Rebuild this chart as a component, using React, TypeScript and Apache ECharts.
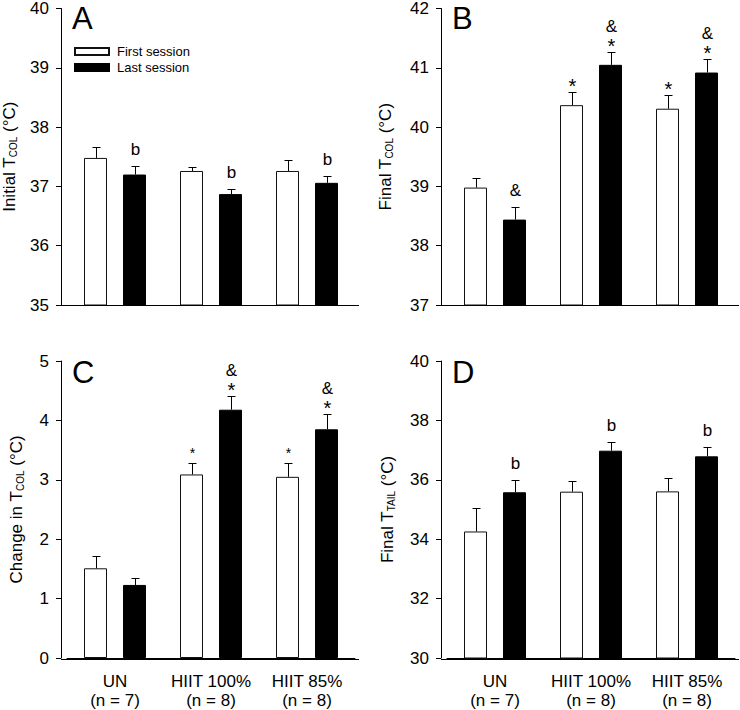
import React, { useEffect, useRef } from "react";
import * as echarts from "echarts";

const FONT = "'Liberation Sans', Arial, sans-serif";

const categories = ["UN\n(n = 7)", "HIIT 100%\n(n = 8)", "HIIT 85%\n(n = 8)"];
const seriesNames = ["First session", "Last session"];

// Panel A: initial colonic temperature
const initialFirst = [37.48, 37.26, 37.26];
const initialFirstErr = [0.18, 0.07, 0.18];
const initialLast = [37.2, 36.87, 37.06];
const initialLastErr = [0.15, 0.09, 0.12];
const initialFirstAnn = ["", "", ""];
const initialLastAnn = ["b", "b", "b"];

// Panel B: final colonic temperature
const finalFirst = [38.98, 40.37, 40.31];
const finalFirstErr = [0.16, 0.23, 0.23];
const finalLast = [38.44, 41.05, 40.92];
const finalLastErr = [0.21, 0.22, 0.22];
const finalFirstAnn = ["", "*", "*"];
const finalLastAnn = ["&", "&\n*", "&\n*"];

// Panel C: change in colonic temperature
const changeFirst = [1.51, 3.09, 3.05];
const changeFirstErr = [0.21, 0.19, 0.23];
const changeLast = [1.23, 4.18, 3.85];
const changeLastErr = [0.12, 0.23, 0.25];
const changeFirstAnn = ["", "*", "*"];
const changeLastAnn = ["", "&\n*", "&\n*"];

// Panel D: final tail temperature
const tailFirst = [34.26, 35.6, 35.61];
const tailFirstErr = [0.78, 0.36, 0.45];
const tailLast = [35.58, 36.98, 36.79];
const tailLastErr = [0.42, 0.28, 0.3];
const tailFirstAnn = ["", "", ""];
const tailLastAnn = ["b", "b", "b"];

const BAR_W = 23;
const BAR_GAP_PX = 16;
const BAR_OFFSET = (BAR_W + BAR_GAP_PX) / 2;
const CAP = 8;

type Panel = {
  letter: string;
  left: number;
  top: number;
  yMin: number;
  yMax: number;
  yInt: number;
  name: string;
  nameGap: number;
  first: number[];
  firstErr: number[];
  last: number[];
  lastErr: number[];
  firstAnn: string[];
  lastAnn: string[];
  smallStar: boolean;
  showX: boolean;
};

const GRID_W = 288;
const GRID_H = 298;
const Y_OFFSET = 6;

const panels: Panel[] = [
  {
    letter: "A", left: 67, top: 7, yMin: 35, yMax: 40, yInt: 1,
    name: "{n|Initial T}{s|COL}{n| (°C)}", nameGap: 43,
    first: initialFirst, firstErr: initialFirstErr, last: initialLast, lastErr: initialLastErr,
    firstAnn: initialFirstAnn, lastAnn: initialLastAnn, smallStar: false, showX: false,
  },
  {
    letter: "B", left: 447, top: 7, yMin: 37, yMax: 42, yInt: 1,
    name: "{n|Final T}{s|COL}{n| (°C)}", nameGap: 47,
    first: finalFirst, firstErr: finalFirstErr, last: finalLast, lastErr: finalLastErr,
    firstAnn: finalFirstAnn, lastAnn: finalLastAnn, smallStar: false, showX: false,
  },
  {
    letter: "C", left: 67, top: 361, yMin: 0, yMax: 5, yInt: 1,
    name: "{n|Change in T}{s|COL}{n| (°C)}", nameGap: 36,
    first: changeFirst, firstErr: changeFirstErr, last: changeLast, lastErr: changeLastErr,
    firstAnn: changeFirstAnn, lastAnn: changeLastAnn, smallStar: true, showX: true,
  },
  {
    letter: "D", left: 447, top: 361, yMin: 30, yMax: 40, yInt: 2,
    name: "{n|Final T}{s|TAIL}{n| (°C)}", nameGap: 45,
    first: tailFirst, firstErr: tailFirstErr, last: tailLast, lastErr: tailLastErr,
    firstAnn: tailFirstAnn, lastAnn: tailLastAnn, smallStar: false, showX: true,
  },
];

function makeRender(sign: number, anns: string[], smallStar: boolean) {
  return (params: any, api: any) => {
    const ci = api.value(0);
    const v = api.value(1);
    const e = api.value(2);
    const base = api.coord([ci, v]);
    const top = api.coord([ci, v + e]);
    const x = Math.round(base[0] + sign * BAR_OFFSET) + 0.5;
    const ty = Math.round(top[1]) + 0.5;
    const children: any[] = [
      { type: "line", shape: { x1: x, y1: base[1], x2: x, y2: ty }, style: { stroke: "#000", lineWidth: 1 } },
      { type: "line", shape: { x1: x - CAP / 2, y1: ty, x2: x + CAP / 2, y2: ty }, style: { stroke: "#000", lineWidth: 1 } },
    ];
    const lines = (anns[params.dataIndex] || "").split("\n").filter(Boolean).reverse();
    let y = ty;
    lines.forEach((t, i) => {
      const isStar = t === "*";
      const fs = isStar ? (smallStar ? 14 : 20) : 17;
      if (i === 0) y = ty - (isStar ? (smallStar ? 11 : 6.5) : 17.5);
      else y = y - 20;
      children.push({
        type: "text",
        style: { text: t, x, y, align: "center", verticalAlign: "middle", fontSize: fs, fontFamily: FONT, fill: "#000" },
      });
    });
    return { type: "group", children };
  };
}

function buildOption() {
  const grid: any[] = [];
  const xAxis: any[] = [];
  const yAxis: any[] = [];
  const series: any[] = [];
  const title: any[] = [];
  const graphic: any[] = [];

  panels.forEach((p, gi) => {
    grid.push({ left: p.left, top: p.top, width: GRID_W, height: GRID_H, containLabel: false });
    xAxis.push({
      type: "category",
      gridIndex: gi,
      data: categories,
      axisLine: { show: true, lineStyle: { color: "#000", width: 1 } },
      axisTick: { show: false },
      axisLabel: {
        show: p.showX,
        interval: 0,
        fontSize: 17,
        lineHeight: 19,
        margin: 14,
        color: "#000",
        fontFamily: FONT,
      },
      splitLine: { show: false },
    });
    yAxis.push({
      type: "value",
      gridIndex: gi,
      min: p.yMin,
      max: p.yMax,
      interval: p.yInt,
      offset: Y_OFFSET,
      axisLine: { show: true, lineStyle: { color: "#000", width: 1 } },
      axisTick: { show: true, inside: false, length: 5, lineStyle: { color: "#000" } },
      axisLabel: { fontSize: 17, color: "#000", fontFamily: FONT, margin: 12 },
      splitLine: { show: false },
      name: p.name,
      nameLocation: "middle",
      nameGap: p.nameGap,
      nameTextStyle: {
        color: "#000",
        fontFamily: FONT,
        rich: {
          n: { fontSize: 17, fontFamily: FONT, color: "#000" },
          s: { fontSize: 10, fontFamily: FONT, color: "#000", verticalAlign: "bottom", lineHeight: 12 },
        },
      },
    });
    series.push({
      name: seriesNames[0],
      type: "bar",
      xAxisIndex: gi,
      yAxisIndex: gi,
      data: p.first,
      barWidth: BAR_W,
      barGap: `${(BAR_GAP_PX / BAR_W) * 100}%`,
      itemStyle: { color: "#fff", borderColor: "#111", borderWidth: 1 },
      z: 2,
    });
    series.push({
      name: seriesNames[1],
      type: "bar",
      xAxisIndex: gi,
      yAxisIndex: gi,
      data: p.last,
      barWidth: BAR_W,
      barGap: `${(BAR_GAP_PX / BAR_W) * 100}%`,
      itemStyle: { color: "#000", borderColor: "#000", borderWidth: 1 },
      z: 2,
    });
    series.push({
      type: "custom",
      xAxisIndex: gi,
      yAxisIndex: gi,
      clip: false,
      z: 5,
      encode: { x: 0, y: 1 },
      data: p.first.map((v, i) => [i, v, p.firstErr[i]]),
      renderItem: makeRender(-1, p.firstAnn, p.smallStar),
    });
    series.push({
      type: "custom",
      xAxisIndex: gi,
      yAxisIndex: gi,
      clip: false,
      z: 5,
      encode: { x: 0, y: 1 },
      data: p.last.map((v, i) => [i, v, p.lastErr[i]]),
      renderItem: makeRender(1, p.lastAnn, false),
    });
    title.push({
      text: p.letter,
      left: p.left + 5,
      top: p.top - 4,
      padding: 0,
      textStyle: { fontSize: 31, fontWeight: "normal", color: "#000", fontFamily: FONT },
    });
    const axisY = p.top + GRID_H + 0.5;
    graphic.push({
      type: "line",
      shape: { x1: p.left - Y_OFFSET, y1: axisY, x2: p.left + GRID_W + 4, y2: axisY },
      style: { stroke: "#000", lineWidth: 1 },
      z: 10,
    });
  });

  return {
    animation: false,
    backgroundColor: "#fff",
    textStyle: { fontFamily: FONT },
    title,
    legend: {
      data: seriesNames,
      orient: "vertical",
      left: 74,
      top: 45,
      padding: 0,
      itemWidth: 34,
      itemHeight: 7,
      itemGap: 3,
      icon: "rect",
      selectedMode: false,
      textStyle: { fontSize: 13, color: "#000", fontFamily: FONT, padding: [0, 0, 0, 3] },
    },
    grid,
    xAxis,
    yAxis,
    series,
    graphic,
  };
}

export default function App() {
  const ref = useRef<HTMLDivElement>(null);
  useEffect(() => {
    if (!ref.current) return;
    const chart = echarts.init(ref.current, undefined, { renderer: "svg" });
    chart.setOption(buildOption() as any);
    return () => chart.dispose();
  }, []);
  return (
    <div
      ref={ref}
      style={{ position: "fixed", left: 0, top: 0, width: 740, height: 710, background: "#fff" }}
    />
  );
}
